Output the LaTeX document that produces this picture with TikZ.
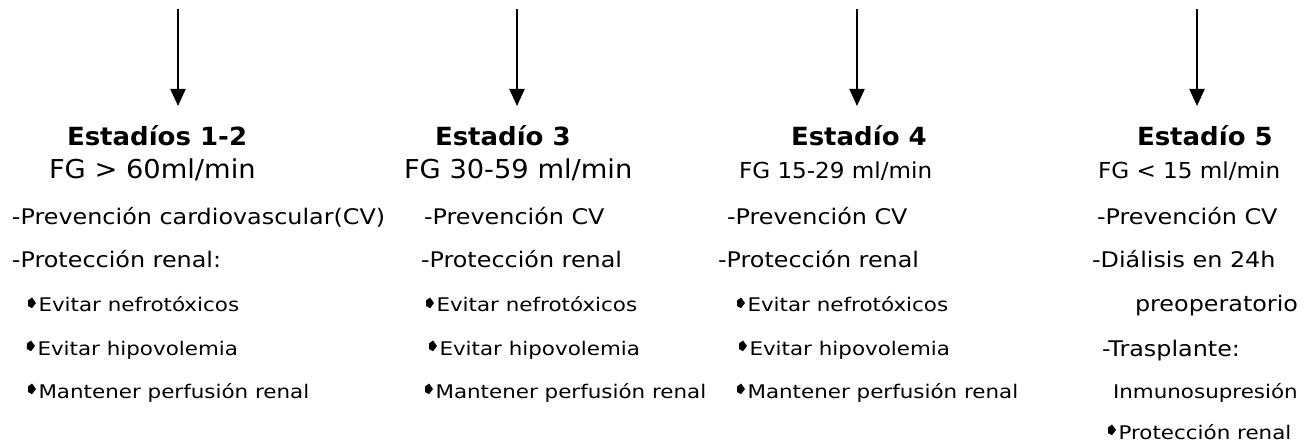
\documentclass[tikz,border=0pt]{standalone}
\usepackage{fontspec}
\setmainfont{DejaVu Sans}
\newfontfamily\hdfont[FakeStretch=1.04]{DejaVu Sans}
\newfontfamily\fgfont[FakeStretch=1.05]{DejaVu Sans}
\newfontfamily\mnfont[FakeStretch=1.11]{DejaVu Sans}
\newfontfamily\sbfont[FakeStretch=1.14]{DejaVu Sans}
\usetikzlibrary{arrows.meta}
\newcommand\bul{\tikz[x=1pt,y=1pt,baseline=0pt]\fill[black] (0,6)--(0,11.5)--(4,14.5)--(8,9)--(4,3.8)--cycle;\hspace{2.5pt}}
\tikzset{
 lbl/.style={anchor=base west, inner sep=0pt, outer sep=0pt, text=black},
 hd/.style={lbl, font=\hdfont\bfseries\fontsize{25}{30}\selectfont},
 fg/.style={lbl, font=\fgfont\fontsize{26}{31}\selectfont},
 fgs/.style={lbl, font=\fgfont\fontsize{22}{26}\selectfont},
 mn/.style={lbl, font=\mnfont\fontsize{21.5}{26}\selectfont},
 sb/.style={lbl, font=\sbfont\fontsize{18.8}{22}\selectfont},
 arr/.style={line width=2pt, black, -{Triangle[width=15pt,length=17pt]}}
}
\begin{document}
\begin{tikzpicture}[x=1pt,y=-1pt]
\useasboundingbox[fill=white] (0,0) rectangle (1316,443);
% arrows
\foreach \i/\x in {1/178,2/517,3/857,4/1197}{
  \coordinate (s\i) at (\x,9);
  \coordinate (e\i) at (\x,106);
}
\draw[arr] (s1) -- (e1);
\draw[arr] (s2) -- (e2);
\draw[arr] (s3) -- (e3);
\draw[arr] (s4) -- (e4);
% column 1
\node[hd] (h1) at (67,146) {Estadíos 1-2};
\node[fg] (f1) at (49,179) {FG > 60ml/min};
\node[mn] (a1) at (12,225) {-Prevención cardiovascular(CV)};
\node[mn] (b1) at (12,268) {-Protección renal:};
\node[sb] (c1) at (28,312) {\bul Evitar nefrotóxicos};
\node[sb] (d1) at (27,355) {\bul Evitar hipovolemia};
\node[sb] (g1) at (28,398) {\bul Mantener perfusión renal};
% column 2
\node[hd] (h2) at (435,146) {Estadío 3};
\node[fg] (f2) at (404,179) {FG 30-59 ml/min};
\node[mn] (a2) at (424,225) {-Prevención CV};
\node[mn] (b2) at (421,268) {-Protección renal};
\node[sb] (c2) at (426,312) {\bul Evitar nefrotóxicos};
\node[sb] (d2) at (429,355) {\bul Evitar hipovolemia};
\node[sb] (g2) at (425,398) {\bul Mantener perfusión renal};
% column 3
\node[hd] (h3) at (791,146) {Estadío 4};
\node[fgs] (f3) at (739,179) {FG 15-29 ml/min};
\node[mn] (a3) at (727,225) {-Prevención CV};
\node[mn] (b3) at (718,268) {-Protección renal};
\node[sb] (c3) at (737,312) {\bul Evitar nefrotóxicos};
\node[sb] (d3) at (739,355) {\bul Evitar hipovolemia};
\node[sb] (g3) at (737,398) {\bul Mantener perfusión renal};
% column 4
\node[hd] (h4) at (1137,146) {Estadío 5};
\node[fgs] (f4) at (1098,179) {FG < 15 ml/min};
\node[mn] (a4) at (1097,225) {-Prevención CV};
\node[mn] (b4) at (1092,268) {-Diálisis en 24h};
\node[mn] (c4) at (1135,312) {preoperatorio};
\node[mn] (d4) at (1102,356) {-Trasplante:};
\node[sb] (g4) at (1113,398) {Inmunosupresión};
\node[sb] (k4) at (1108,439) {\bul Protección renal};
\end{tikzpicture}
\end{document}
